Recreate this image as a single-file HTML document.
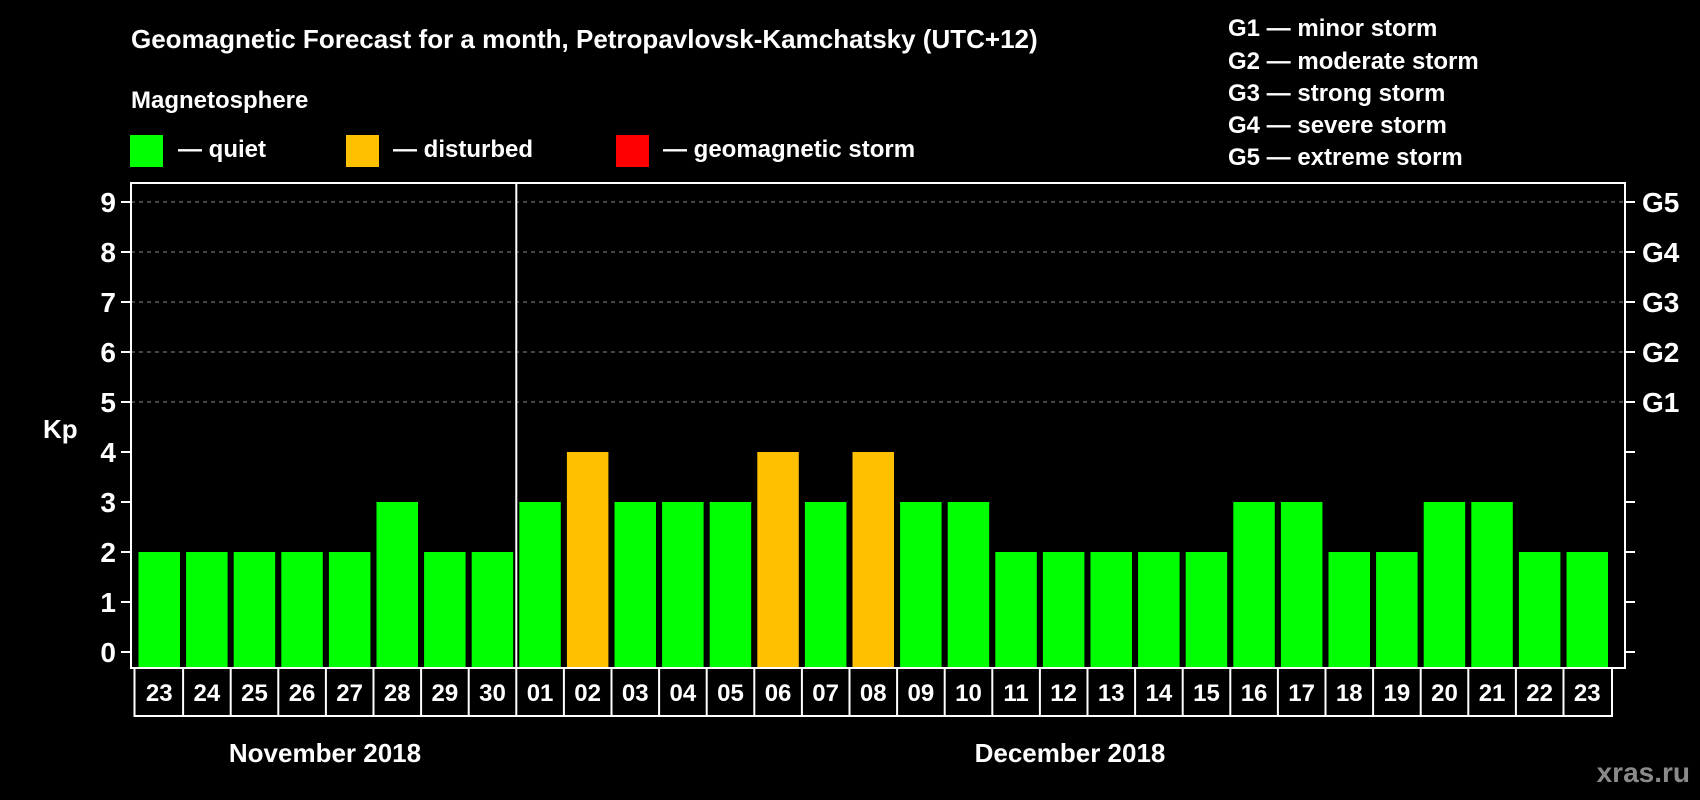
<!DOCTYPE html>
<html><head><meta charset="utf-8">
<style>
html,body{margin:0;padding:0;background:#000;}
svg{display:block;font-family:"Liberation Sans",Arial,sans-serif;font-weight:bold;}
</style></head>
<body>
<svg id="chart" width="1700" height="800" viewBox="0 0 1700 800" xmlns="http://www.w3.org/2000/svg">
<rect width="1700" height="800" fill="#000"/>
<text x="131" y="48" fill="#fff" font-size="26">Geomagnetic Forecast for a month, Petropavlovsk-Kamchatsky (UTC+12)</text>
<text x="131" y="108" fill="#fff" font-size="24">Magnetosphere</text>
<g><rect x="130" y="135" width="33" height="32" fill="#00ff00"/><text x="178" y="157" fill="#fff" font-size="24">— quiet</text></g>
<g><rect x="346" y="135" width="33" height="32" fill="#ffc000"/><text x="393" y="157" fill="#fff" font-size="24">— disturbed</text></g>
<g><rect x="616" y="135" width="33" height="32" fill="#ff0000"/><text x="663" y="157" fill="#fff" font-size="24">— geomagnetic storm</text></g>
<g fill="#fff" font-size="24">
<text x="1228" y="36">G1 — minor storm</text>
<text x="1228" y="69">G2 — moderate storm</text>
<text x="1228" y="101">G3 — strong storm</text>
<text x="1228" y="133">G4 — severe storm</text>
<text x="1228" y="165">G5 — extreme storm</text>
</g>
<text x="43" y="438" fill="#fff" font-size="26">Kp</text>
<text x="325" y="762" fill="#fff" font-size="26" text-anchor="middle">November 2018</text>
<text x="1070" y="762" fill="#fff" font-size="26" text-anchor="middle">December 2018</text>
<text x="1690" y="782" fill="#8a8a8a" font-size="28" text-anchor="end">xras.ru</text>
<g id="grid"></g><g id="bars"></g><g id="axes"></g>
</svg>
<script>
const days = ["23","24","25","26","27","28","29","30","01","02","03","04","05","06","07","08","09","10","11","12","13","14","15","16","17","18","19","20","21","22","23"];
const kpValues = [2,2,2,2,2,3,2,2,3,4,3,3,3,4,3,4,3,3,2,2,2,2,2,3,3,2,2,3,3,2,2];
const yTicks = [0,1,2,3,4,5,6,7,8,9];
const gLabels = ["","","","","","G1","G2","G3","G4","G5"];
const NS="http://www.w3.org/2000/svg";
const L=131,R=1625,T=183,B=668,boxB=716;
const bx0=138.5,step=47.6,bw=41.5;
const y=v=>652-v*50;
const xb=i=>bx0+i*step;
function mk(tag,attrs,parent){const e=document.createElementNS(NS,tag);for(const k in attrs)e.setAttribute(k,attrs[k]);parent.appendChild(e);return e;}
const grid=document.getElementById('grid'),bars=document.getElementById('bars'),axes=document.getElementById('axes');
yTicks.forEach((t,i)=>{
  if(t>=5){const g=mk('line',{x1:L,x2:R,y1:y(t),y2:y(t),stroke:'#888','stroke-dasharray':'4,4','stroke-width':1},grid);
  
  }
  const tl=mk('line',{x1:L-10,x2:L,y1:y(t),y2:y(t),stroke:'#fff','stroke-width':2},axes);
  
  
  const tr=mk('line',{x1:R,x2:R+10,y1:y(t),y2:y(t),stroke:'#fff','stroke-width':2},axes);
  
  
  const lb=mk('text',{x:116,y:y(t)+10,fill:'#fff','font-size':28,'text-anchor':'end'},axes);lb.textContent=t;
  
  
  if(gLabels[i]){const gl=mk('text',{x:1642,y:y(t)+10,fill:'#fff','font-size':28},axes);gl.textContent=gLabels[i];
  
  }
});
kpValues.forEach((v,i)=>{
  const c=v>=5?'#ff0000':(v>=4?'#ffc000':'#00ff00');
  const r=mk('rect',{x:xb(i),y:y(v),width:bw,height:B-y(v),fill:c},bars);
  
  
  const t=mk('text',{x:xb(i)+bw/2,y:701,fill:'#fff','font-size':24,'text-anchor':'middle'},axes);t.textContent=days[i];
  
  
  if(i>0){const s=mk('line',{x1:xb(i)-3,x2:xb(i)-3,y1:B,y2:boxB,stroke:'#fff','stroke-width':2},axes);
  
  }
});
const fr=mk('rect',{x:L,y:T,width:R-L,height:B-T,fill:'none',stroke:'#fff','stroke-width':2},axes);


const bb=mk('rect',{x:xb(0)-4,y:B,width:xb(30)+bw+4-(xb(0)-4),height:boxB-B,fill:'none',stroke:'#fff','stroke-width':2},axes);


const dv=mk('line',{x1:xb(8)-3,x2:xb(8)-3,y1:T,y2:B,stroke:'#fff','stroke-width':2},axes);


</script>
</body></html>
